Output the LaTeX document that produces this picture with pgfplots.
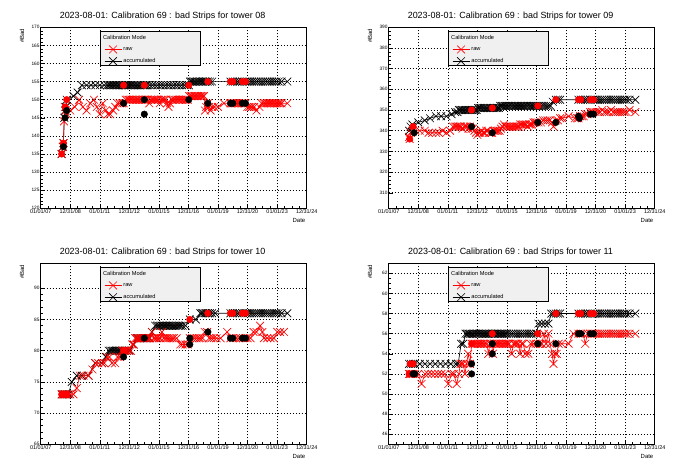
\documentclass[border=0pt]{standalone}
\usepackage{pgfplots}
\pgfplotsset{compat=1.18}
\usepackage{fontspec}
\setmainfont{Liberation Sans}
\definecolor{legbg}{RGB}{240,240,240}
\pgfplotsset{
 rootax/.style={
  scale only axis, width=266bp, height=181bp,
  xmin=2007, xmax=2025,
  xtick={2007,2009,2011,2013,2015,2017,2019,2021,2023,2025},
  xticklabels={01/01/07,12/31/08,01/01/11,12/31/12,01/01/15,12/31/16,01/01/19,12/31/20,01/01/23,12/31/24},
  minor x tick num=3,
  grid=major,
  major grid style={black, line width=0.6bp, dash pattern=on 0.9bp off 2.1bp},
  tick align=inside, tick pos=left,
  major tick length=4bp, minor tick length=2bp,
  every tick/.style={black, line width=0.5bp},
  axis line style={line width=0.8bp},
  /pgf/number format/assume math mode=true,
  xticklabel style={font=\fontsize{5.5}{6}\selectfont, inner sep=1bp},
  yticklabel style={font=\fontsize{4.8}{5}\selectfont, inner sep=1bp, /pgf/number format/fixed},
  title style={font=\fontsize{9}{10}\selectfont, at={(0.458,1)}, anchor=south, yshift=-2.5bp},
  xlabel={Date}, ylabel={\#Bad},
  ylabel style={font=\fontsize{6}{7}\selectfont, at={(-0.0703,0.952)}, anchor=center},
  xlabel style={font=\fontsize{6}{7}\selectfont, at={(0.971,-0.07)}, anchor=center},
  legend style={at={(0.238,0.90)}, anchor=north west, draw=none, fill=none,
     font=\fontsize{5.7}{6}\selectfont, row sep=3.5bp, inner sep=0pt,
     nodes={inner sep=1.5bp}},
  legend cell align=left,
 },
 accum/.style={black, mark=x, mark size=5.5bp, line width=0.65bp, mark options={solid}},
 rawst/.style={red, mark=x, mark size=5.5bp, line width=0.65bp, mark options={solid}},
 circR/.style={only marks, mark=*, red, mark size=3.3bp},
 circB/.style={only marks, mark=*, black, mark size=3.3bp},
}
\newcommand{\legbox}{%
  \draw[fill=legbg, draw=black, line width=0.7bp] (rel axis cs:0.2256,0.7917) rectangle (rel axis cs:0.5989,0.9757);
  \node[anchor=west, font=\fontsize{5.7}{6}\selectfont, inner sep=0pt] at (rel axis cs:0.234,0.9425) {Calibration Mode};
}
\newcommand{\legentries}{%
  \addlegendimage{rawst}\addlegendentry{raw}
  \addlegendimage{accum}\addlegendentry{accumulated}
}
\begin{document}
\begin{tikzpicture}[x=1bp,y=1bp]
\path[use as bounding box, fill=white] (0,0) rectangle (696,472);

% ---------------- tower 08
\begin{axis}[rootax, at={(40.7bp,263.7bp)}, anchor=south west,
  ymin=120, ymax=170, ytick={120,125,...,170}, minor y tick num=4,
  title={2023-08-01: Calibration 69 : bad Strips for tower 08}]
\legbox
\legentries
\addplot[accum, forget plot] coordinates {
(2008.42,135) (2008.50,137) (2008.54,138) (2008.60,145) (2008.65,147) (2008.72,148) (2008.76,150) (2009.22,151) (2009.50,152) (2009.78,154) (2010.10,154) (2010.40,154) (2010.70,154) (2011.00,154) (2011.30,154) (2011.50,154) (2011.60,154) (2011.70,154) (2011.80,154) (2011.90,154) (2012.00,154) (2012.10,154) (2012.20,154) (2012.30,154) (2012.40,154) (2012.50,154) (2012.61,154) (2012.70,154) (2012.80,154) (2012.90,154) (2013.00,154) (2013.10,154) (2013.20,154) (2013.30,154) (2013.40,154) (2013.50,154) (2013.60,154) (2013.70,154) (2013.80,154) (2013.90,154) (2014.01,154) (2014.10,154) (2014.20,154) (2014.38,154) (2014.56,154) (2014.74,154) (2014.92,154) (2015.10,154) (2015.28,154) (2015.46,154) (2015.64,154) (2015.82,154) (2016.00,154) (2016.18,154) (2016.36,154) (2016.54,154) (2016.72,154) (2016.90,154) (2017.02,154) (2017.10,155) (2017.20,155) (2017.30,155) (2017.40,155) (2017.50,155) (2017.60,155) (2017.70,155) (2017.80,155) (2017.90,155) (2018.00,155) (2018.10,155) (2018.20,155) (2018.31,155) (2018.45,155) (2018.60,155) (2019.84,155) (2020.00,155) (2020.15,155) (2020.30,155) (2020.45,155) (2020.64,155) (2020.86,155) (2021.00,155) (2021.15,155) (2021.30,155) (2021.45,155) (2021.60,155) (2021.75,155) (2021.90,155) (2022.05,155) (2022.20,155) (2022.35,155) (2022.50,155) (2022.65,155) (2022.80,155) (2022.95,155) (2023.10,155) (2023.30,155) (2023.69,155)
};
\addplot[rawst, forget plot] coordinates {
(2008.42,135) (2008.50,137) (2008.54,138) (2008.58,144) (2008.65,148) (2008.70,147) (2008.76,146) (2009.00,147) (2009.30,148) (2009.60,150) (2009.85,148) (2010.10,147) (2010.35,149) (2010.60,150) (2010.80,148) (2011.00,146) (2011.20,149) (2011.40,147) (2011.55,146) (2011.70,146) (2011.90,147) (2012.05,148) (2012.20,149) (2012.35,149) (2012.50,149) (2012.61,149) (2012.75,150) (2012.85,150) (2012.95,150) (2013.05,150) (2013.15,150) (2013.25,150) (2013.35,150) (2013.45,150) (2013.55,150) (2013.65,150) (2013.75,150) (2013.85,150) (2013.95,150) (2014.05,150) (2014.15,150) (2014.25,150) (2014.35,149) (2014.45,150) (2014.55,150) (2014.65,150) (2014.75,150) (2014.85,150) (2014.95,150) (2015.05,149) (2015.15,150) (2015.25,150) (2015.35,150) (2015.45,150) (2015.55,149) (2015.65,148) (2015.75,149) (2015.85,150) (2015.95,150) (2016.05,150) (2016.15,150) (2016.25,150) (2016.35,150) (2016.45,150) (2016.55,150) (2016.65,150) (2016.75,150) (2016.85,150) (2016.95,150) (2017.05,151) (2017.15,151) (2017.25,151) (2017.35,151) (2017.45,151) (2017.55,151) (2017.65,151) (2017.75,151) (2017.85,151) (2017.95,151) (2018.05,151) (2018.12,147) (2018.20,148) (2018.31,149) (2018.40,148) (2018.50,147) (2018.60,148) (2018.75,148) (2019.00,148) (2019.40,149) (2019.84,149) (2019.95,149) (2020.05,149) (2020.15,149) (2020.25,149) (2020.35,149) (2020.45,149) (2020.55,149) (2020.65,149) (2020.75,149) (2020.86,149) (2020.98,148) (2021.10,148) (2021.20,148) (2021.30,148) (2021.45,148) (2021.60,147) (2021.80,148) (2021.95,149) (2022.10,149) (2022.20,149) (2022.30,149) (2022.40,149) (2022.50,149) (2022.60,149) (2022.70,149) (2022.80,149) (2022.90,149) (2023.00,149) (2023.10,149) (2023.20,149) (2023.30,149) (2023.69,149)
};
\addplot[circR, forget plot] coordinates {(2008.42,135) (2008.54,138) (2008.65,148) (2008.76,150) (2012.61,154) (2014.01,154) (2017.02,154) (2018.31,155) (2019.84,155) (2020.00,155) (2020.64,155) (2020.86,155)};
\addplot[circB, forget plot] coordinates {(2008.54,137) (2008.65,145) (2008.76,147) (2012.61,149) (2014.01,146) (2014.01,150) (2017.02,150) (2018.31,149) (2019.84,149) (2020.00,149) (2020.64,149) (2020.86,149)};
\end{axis}

% ---------------- tower 09
\begin{axis}[rootax, at={(388.7bp,263.7bp)}, anchor=south west,
  ymin=302.5, ymax=390, ytick={310,320,...,390}, minor y tick num=4,
  title={2023-08-01: Calibration 69 : bad Strips for tower 09}]
\legbox
\legentries
\addplot[accum, forget plot] coordinates {
(2008.38,340) (2008.48,342) (2008.60,343) (2009.00,344) (2009.44,345) (2009.80,346) (2010.20,347) (2010.55,347) (2010.91,347) (2011.25,348) (2011.50,349) (2011.65,349) (2011.75,350) (2011.85,350) (2011.95,350) (2012.05,350) (2012.15,350) (2012.25,350) (2012.35,350) (2012.45,350) (2012.55,350) (2012.65,350) (2012.75,350) (2012.85,350) (2012.95,350) (2013.05,351) (2013.15,351) (2013.25,351) (2013.35,351) (2013.45,351) (2013.55,351) (2013.65,351) (2013.75,351) (2013.85,351) (2013.95,351) (2014.05,351) (2014.15,351) (2014.25,351) (2014.35,351) (2014.45,351) (2014.55,352) (2014.65,352) (2014.75,352) (2014.85,352) (2014.95,352) (2015.05,352) (2015.15,352) (2015.25,352) (2015.35,352) (2015.45,352) (2015.55,352) (2015.65,352) (2015.75,352) (2015.85,352) (2015.95,352) (2016.05,352) (2016.15,352) (2016.25,352) (2016.35,352) (2016.45,352) (2016.55,352) (2016.65,352) (2016.75,352) (2016.85,352) (2016.95,352) (2017.09,352) (2017.20,352) (2017.35,352) (2017.50,352) (2017.65,352) (2017.80,352) (2017.95,352) (2018.10,354) (2018.31,355) (2018.45,355) (2018.60,355) (2019.84,355) (2020.00,355) (2020.15,355) (2020.30,355) (2020.45,355) (2020.64,355) (2020.86,355) (2021.00,355) (2021.15,355) (2021.30,355) (2021.45,355) (2021.60,355) (2021.75,355) (2021.90,355) (2022.05,355) (2022.20,355) (2022.35,355) (2022.50,355) (2022.65,355) (2022.80,355) (2022.95,355) (2023.10,355) (2023.30,355) (2023.69,355)
};
\addplot[rawst, forget plot] coordinates {
(2008.38,337) (2008.42,336) (2008.50,339) (2008.60,340) (2008.80,340) (2009.10,340) (2009.44,340) (2009.70,339) (2009.95,339) (2010.20,339) (2010.40,339) (2010.65,340) (2010.91,339) (2011.15,340) (2011.35,342) (2011.50,342) (2011.60,342) (2011.70,342) (2011.80,342) (2011.90,342) (2012.00,341) (2012.10,342) (2012.20,342) (2012.30,342) (2012.40,341) (2012.50,342) (2012.60,341) (2012.70,341) (2012.80,340) (2012.90,339) (2013.00,338) (2013.10,339) (2013.20,339) (2013.30,340) (2013.40,339) (2013.50,339) (2013.60,340) (2013.70,340) (2013.80,339) (2013.90,339) (2014.00,339) (2014.10,340) (2014.20,340) (2014.30,340) (2014.40,340) (2014.50,340) (2014.60,341) (2014.70,342) (2014.80,343) (2014.90,342) (2015.00,342) (2015.10,342) (2015.20,342) (2015.30,342) (2015.40,342) (2015.50,342) (2015.60,342) (2015.70,342) (2015.80,342) (2015.90,343) (2016.00,343) (2016.10,343) (2016.20,343) (2016.30,343) (2016.40,342) (2016.50,343) (2016.60,343) (2016.70,343) (2016.80,344) (2016.90,344) (2017.00,344) (2017.13,344) (2017.30,344) (2017.45,345) (2017.60,345) (2017.75,345) (2017.90,345) (2018.05,344) (2018.15,342) (2018.31,345) (2018.45,345) (2018.60,346) (2018.75,346) (2019.17,347) (2019.60,346) (2019.75,346) (2019.84,346) (2019.95,347) (2020.07,347) (2020.20,347) (2020.30,348) (2020.45,348) (2020.64,349) (2020.75,349) (2020.86,349) (2021.00,349) (2021.15,349) (2021.30,349) (2021.45,350) (2021.60,349) (2021.75,349) (2021.90,349) (2022.05,350) (2022.20,349) (2022.35,349) (2022.50,349) (2022.65,349) (2022.80,349) (2022.95,349) (2023.10,349) (2023.30,350) (2023.69,349)
};
\addplot[circR, forget plot] coordinates {(2008.42,336) (2008.65,342) (2012.61,350) (2014.01,351) (2017.09,352) (2018.31,355) (2019.84,355) (2020.00,355) (2020.64,355) (2020.86,355)};
\addplot[circB, forget plot] coordinates {(2008.72,339) (2012.61,342) (2014.01,339) (2017.09,344) (2018.31,344) (2019.84,347) (2019.91,346) (2020.64,348) (2020.86,348)};
\end{axis}

% ---------------- tower 10
\begin{axis}[rootax, at={(40.7bp,27.7bp)}, anchor=south west,
  ymin=65, ymax=94, ytick={65,70,...,90}, minor y tick num=4,
  title={2023-08-01: Calibration 69 : bad Strips for tower 10}]
\legbox
\legentries
\addplot[accum, forget plot] coordinates {
(2008.42,73) (2008.55,73) (2008.65,73) (2008.76,73) (2008.88,73) (2009.10,75) (2009.44,76) (2009.78,76) (2010.23,76) (2010.69,78) (2011.14,78) (2011.40,79) (2011.60,80) (2011.70,80) (2011.80,80) (2011.90,80) (2012.00,80) (2012.10,80) (2012.20,80) (2012.30,80) (2012.40,80) (2012.50,80) (2012.61,80) (2012.70,80) (2012.83,80) (2013.00,80) (2013.29,81) (2013.50,82) (2013.60,82) (2013.70,82) (2013.80,82) (2013.90,82) (2014.01,82) (2014.10,82) (2014.20,82) (2014.35,82) (2014.53,83) (2014.75,84) (2014.87,84) (2014.97,84) (2015.07,84) (2015.17,84) (2015.27,84) (2015.37,84) (2015.47,84) (2015.57,84) (2015.67,84) (2015.77,84) (2015.87,84) (2015.97,84) (2016.07,84) (2016.17,84) (2016.27,84) (2016.37,84) (2016.47,84) (2016.60,84) (2016.80,84) (2017.09,85) (2017.50,85) (2017.80,86) (2017.90,86) (2018.00,86) (2018.10,86) (2018.20,86) (2018.31,86) (2018.45,86) (2018.60,86) (2018.80,86) (2019.84,86) (2020.00,86) (2020.15,86) (2020.30,86) (2020.45,86) (2020.64,86) (2020.86,86) (2021.00,86) (2021.15,86) (2021.30,86) (2021.45,86) (2021.60,86) (2021.75,86) (2021.90,86) (2022.05,86) (2022.20,86) (2022.35,86) (2022.50,86) (2022.65,86) (2022.80,86) (2022.95,86) (2023.10,86) (2023.30,86) (2023.69,86)
};
\addplot[rawst, forget plot] coordinates {
(2008.42,73) (2008.50,73) (2008.60,73) (2008.70,73) (2008.80,73) (2009.00,73) (2009.22,73) (2009.44,74) (2009.65,76) (2009.90,76) (2010.23,76) (2010.50,77) (2010.69,78) (2010.90,78) (2011.14,78) (2011.30,78) (2011.48,79) (2011.65,79) (2011.82,78) (2012.04,78) (2012.20,79) (2012.35,79) (2012.50,80) (2012.61,80) (2012.72,80) (2012.83,80) (2012.95,80) (2013.10,80) (2013.20,81) (2013.29,81) (2013.40,82) (2013.50,82) (2013.60,82) (2013.70,82) (2013.80,82) (2013.90,82) (2014.00,82) (2014.10,82) (2014.20,82) (2014.30,82) (2014.40,82) (2014.53,83) (2014.65,82) (2014.75,82) (2014.87,82) (2015.00,82) (2015.10,82) (2015.20,83) (2015.32,82) (2015.45,82) (2015.55,82) (2015.65,82) (2015.77,82) (2015.90,82) (2016.00,82) (2016.20,82) (2016.45,81) (2016.60,81) (2016.79,81) (2016.95,81) (2017.09,82) (2017.25,82) (2017.40,82) (2017.55,82) (2017.70,82) (2017.81,82) (2017.95,82) (2018.10,83) (2018.26,83) (2018.40,82) (2018.55,82) (2018.71,82) (2018.90,82) (2019.17,82) (2019.62,83) (2019.84,82) (2020.00,82) (2020.20,82) (2020.40,82) (2020.52,82) (2020.70,82) (2020.86,82) (2021.00,82) (2021.20,82) (2021.40,83) (2021.60,83) (2021.85,84) (2022.00,83) (2022.11,82) (2022.33,82) (2022.55,82) (2022.78,82) (2023.01,83) (2023.20,83) (2023.46,83)
};
\addplot[circR, forget plot] coordinates {(2008.42,73) (2008.50,73) (2008.76,73) (2012.61,80) (2014.01,82) (2017.09,85) (2018.31,86) (2019.84,86) (2020.00,86) (2020.64,86) (2020.86,86)};
\addplot[circB, forget plot] coordinates {(2012.61,79) (2014.01,82) (2017.09,82) (2017.09,81) (2018.31,83) (2019.84,82) (2020.00,82) (2020.64,82) (2020.86,82)};
\end{axis}

% ---------------- tower 11
\begin{axis}[rootax, at={(388.7bp,27.7bp)}, anchor=south west,
  ymin=45, ymax=63, ytick={46,48,...,62}, minor y tick num=3,
  title={2023-08-01: Calibration 69 : bad Strips for tower 11}]
\legbox
\legentries
\addplot[accum, forget plot] coordinates {
(2008.38,53) (2008.50,53) (2008.65,53) (2008.76,53) (2009.10,53) (2009.45,53) (2009.80,53) (2010.15,53) (2010.50,53) (2010.85,53) (2011.20,53) (2011.55,53) (2011.70,53) (2011.90,55) (2012.04,55) (2012.20,56) (2012.30,56) (2012.40,56) (2012.50,56) (2012.61,56) (2012.70,56) (2012.80,56) (2012.90,56) (2013.00,56) (2013.10,56) (2013.20,56) (2013.30,56) (2013.40,56) (2013.50,56) (2013.60,56) (2013.70,56) (2013.80,56) (2013.90,56) (2014.01,56) (2014.10,56) (2014.20,56) (2014.30,56) (2014.40,56) (2014.50,56) (2014.60,56) (2014.70,56) (2014.80,56) (2014.90,56) (2015.00,56) (2015.15,56) (2015.30,56) (2015.45,56) (2015.60,56) (2015.75,56) (2015.90,56) (2016.05,56) (2016.20,56) (2016.35,56) (2016.50,56) (2016.65,56) (2016.80,56) (2017.00,56) (2017.13,57) (2017.36,57) (2017.58,57) (2017.81,57) (2018.00,58) (2018.15,58) (2018.31,58) (2018.45,58) (2018.60,58) (2019.84,58) (2020.00,58) (2020.15,58) (2020.30,58) (2020.45,58) (2020.64,58) (2020.86,58) (2021.00,58) (2021.15,58) (2021.30,58) (2021.45,58) (2021.60,58) (2021.75,58) (2021.90,58) (2022.05,58) (2022.20,58) (2022.35,58) (2022.50,58) (2022.65,58) (2022.80,58) (2022.95,58) (2023.10,58) (2023.30,58) (2023.69,58)
};
\addplot[rawst, forget plot] coordinates {
(2008.38,52) (2008.45,52) (2008.54,52) (2008.65,52) (2008.76,52) (2009.00,52) (2009.22,51) (2009.45,52) (2009.67,52) (2009.90,52) (2010.12,52) (2010.35,52) (2010.57,52) (2010.80,52) (2011.03,51) (2011.25,52) (2011.40,52) (2011.60,51) (2011.75,52) (2011.85,53) (2011.93,53) (2012.04,53) (2012.16,52) (2012.27,53) (2012.38,54) (2012.50,53) (2012.61,55) (2012.72,55) (2012.83,55) (2012.95,55) (2013.05,55) (2013.15,55) (2013.25,55) (2013.35,55) (2013.45,55) (2013.55,55) (2013.65,55) (2013.74,54) (2013.85,55) (2013.95,55) (2014.05,54) (2014.15,55) (2014.25,55) (2014.35,55) (2014.45,55) (2014.55,55) (2014.65,55) (2014.75,55) (2014.85,55) (2014.95,55) (2015.05,55) (2015.15,55) (2015.32,54) (2015.45,55) (2015.55,55) (2015.65,55) (2015.77,55) (2015.90,54) (2016.00,55) (2016.10,55) (2016.25,54) (2016.45,54) (2016.60,55) (2016.79,55) (2016.95,55) (2017.09,55) (2017.25,55) (2017.36,55) (2017.50,56) (2017.65,55) (2017.81,56) (2017.92,55) (2018.05,54) (2018.15,53) (2018.26,54) (2018.37,54) (2018.50,55) (2018.71,55) (2019.17,55) (2019.50,56) (2019.84,56) (2020.00,56) (2020.15,56) (2020.30,55) (2020.45,56) (2020.64,56) (2020.75,56) (2020.86,56) (2021.00,56) (2021.15,56) (2021.30,56) (2021.45,56) (2021.60,56) (2021.75,56) (2021.90,56) (2022.05,56) (2022.20,56) (2022.35,56) (2022.50,56) (2022.65,56) (2022.80,56) (2022.95,56) (2023.10,56) (2023.30,56) (2023.69,56)
};
\addplot[circR, forget plot] coordinates {(2008.38,52) (2008.45,53) (2008.65,53) (2012.61,55) (2014.01,56) (2017.09,56) (2018.31,58) (2019.84,58) (2020.00,58) (2020.64,58) (2020.86,58)};
\addplot[circB, forget plot] coordinates {(2008.65,52) (2008.76,52) (2012.61,53) (2012.61,52) (2014.01,55) (2014.01,54) (2017.09,55) (2018.31,55) (2019.84,56) (2020.00,56) (2020.64,56) (2020.86,56)};
\end{axis}
\end{tikzpicture}
\end{document}
